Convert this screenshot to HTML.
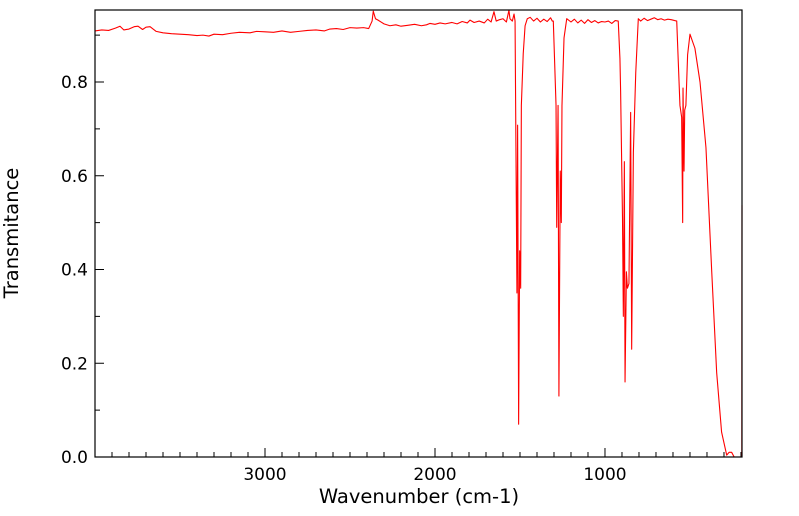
<!DOCTYPE html>
<html><head><meta charset="utf-8">
<style>
html,body{margin:0;padding:0;background:#fff;}
svg{display:block;font-family:"DejaVu Sans","Liberation Sans",sans-serif;}
</style></head>
<body>
<svg id="chart" width="799" height="516" viewBox="0 0 799 516">
  <g id="ticks"></g>
  <path id="line" fill="none" stroke="#ff0000" stroke-width="1.1" stroke-linejoin="round"></path>
  <rect x="95" y="10" width="647" height="447" fill="none" stroke="#000" stroke-width="1.2"></rect>
  <text x="18" y="233" font-size="19.5" text-anchor="middle" transform="rotate(-90 18 233)">Transmitance</text>
  <text x="419" y="503" font-size="19.5" text-anchor="middle">Wavenumber (cm-1)</text>
</svg>
<script>
const wavenumbers = [4000,3960,3920,3880,3853,3830,3800,3770,3747,3720,3700,3676,3640,3600,3550,3500,3450,3400,3365,3330,3300,3250,3200,3150,3088,3050,3000,2950,2900,2850,2800,2750,2700,2650,2618,2580,2540,2500,2460,2420,2390,2370,2363,2350,2335,2300,2265,2230,2200,2160,2120,2080,2050,2029,2000,1970,1940,1900,1870,1840,1810,1794,1770,1740,1710,1690,1670,1653,1640,1620,1600,1580,1565,1559,1545,1535,1529,1518,1514,1508,1502,1496,1492,1481,1470,1457,1440,1420,1400,1380,1360,1340,1320,1310,1304,1288,1284,1276,1271,1263,1257,1253,1241,1225,1200,1180,1160,1140,1120,1100,1080,1060,1040,1020,1000,980,960,940,922,912,908,897,892,886,882,874,868,859,849,843,833,819,804,790,770,750,730,710,690,670,650,630,610,590,578,559,549,543,541,535,531,524,514,500,471,441,406,372,343,314,284,270,255,240,225,200,195,194,194];
const transmittance = [0.909,0.911,0.910,0.915,0.919,0.911,0.913,0.918,0.919,0.912,0.917,0.918,0.908,0.905,0.903,0.902,0.901,0.899,0.900,0.898,0.902,0.901,0.904,0.906,0.905,0.908,0.907,0.906,0.909,0.906,0.908,0.910,0.911,0.909,0.913,0.914,0.912,0.916,0.915,0.916,0.914,0.930,0.951,0.935,0.932,0.924,0.920,0.922,0.919,0.921,0.923,0.920,0.922,0.925,0.923,0.926,0.924,0.927,0.924,0.929,0.926,0.932,0.927,0.930,0.926,0.934,0.928,0.950,0.930,0.933,0.935,0.928,0.953,0.935,0.930,0.945,0.930,0.350,0.708,0.070,0.440,0.360,0.750,0.860,0.920,0.935,0.938,0.930,0.936,0.928,0.934,0.929,0.937,0.930,0.930,0.750,0.490,0.750,0.130,0.610,0.500,0.750,0.894,0.935,0.928,0.934,0.926,0.932,0.925,0.933,0.927,0.931,0.926,0.929,0.928,0.930,0.925,0.931,0.930,0.850,0.780,0.510,0.300,0.630,0.160,0.395,0.360,0.370,0.735,0.230,0.650,0.820,0.935,0.930,0.936,0.931,0.934,0.937,0.933,0.935,0.932,0.934,0.933,0.931,0.930,0.750,0.725,0.500,0.787,0.610,0.740,0.750,0.858,0.902,0.872,0.800,0.660,0.395,0.180,0.053,0.004,0.010,0.010,0.000,0.000,0.000,0.000,0.537];
const xMajorTicks = [3000,2000,1000];
const yMajorTicks = [0.0,0.2,0.4,0.6,0.8];
const yTickLabels = ["0.0","0.2","0.4","0.6","0.8"];

const L=95,R=742,T=10,B=457;
const X0=4000,X1=194,Y0=0,Y1=(B-T)/468.75;
function xs(w){return L+(X0-w)/(X0-X1)*(R-L);}
function ys(v){return B-(v-Y0)/(Y1-Y0)*(B-T);}

const ns="http://www.w3.org/2000/svg";
const line=document.getElementById('line');
let d="";
for(let i=0;i<wavenumbers.length;i++){
  d+=(i?"L":"M")+xs(wavenumbers[i]).toFixed(2)+","+ys(transmittance[i]).toFixed(2);
}
line.setAttribute('d',d);

const g=document.getElementById('ticks');
function mk(tag,attrs){const e=document.createElementNS(ns,tag);for(const k in attrs)e.setAttribute(k,attrs[k]);g.appendChild(e);return e;}
for(let w=3900;w>=X1;w-=100){
  const major=xMajorTicks.includes(w);
  const t=mk('line',{x1:xs(w),x2:xs(w),y1:B,y2:B-(major?9:5),stroke:'#000','stroke-width':1});
  
  
}
xMajorTicks.forEach(w=>{
  const t=mk('text',{x:xs(w),y:B+23,'font-size':17,'text-anchor':'middle'});
  t.textContent=w;
  
  
});
for(let k=0;k<=9;k++){
  const v=k/10;
  const major=k%2===0;
  const t=mk('line',{x1:L,x2:L+(major?9:5),y1:ys(v),y2:ys(v),stroke:'#000','stroke-width':1});
  
  
}
yMajorTicks.forEach((v,i)=>{
  const t=mk('text',{x:L-7,y:ys(v)+6,'font-size':17,'text-anchor':'end'});
  t.textContent=yTickLabels[i];
  
  
});
</script>
</body></html>
